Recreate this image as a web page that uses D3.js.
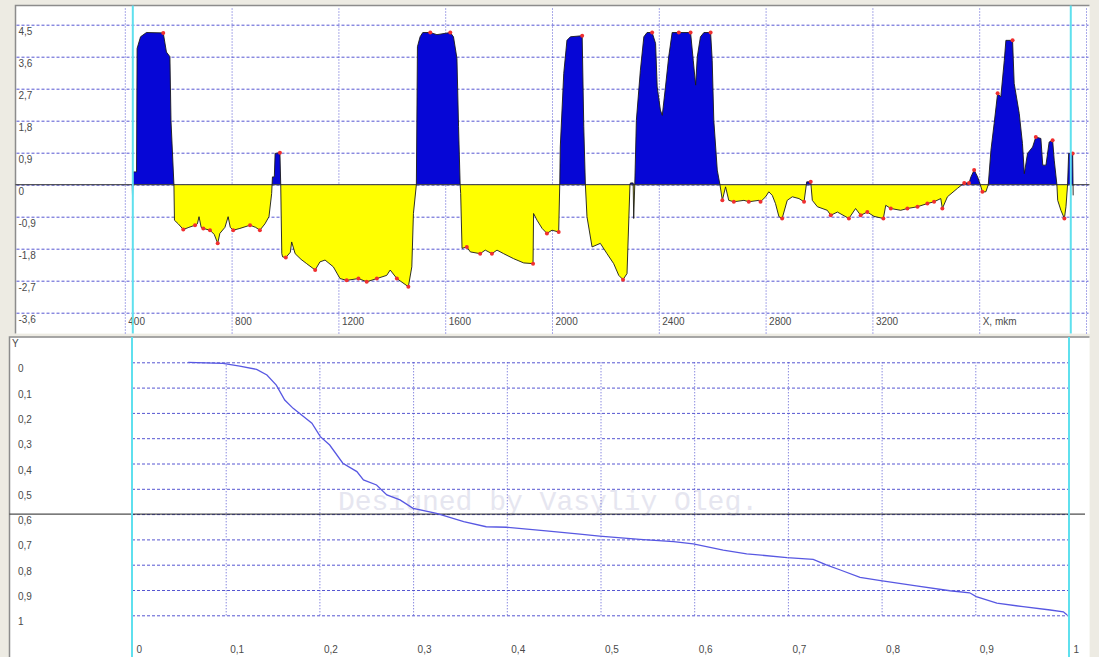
<!DOCTYPE html>
<html>
<head>
<meta charset="utf-8">
<script src="https://cdn.jsdelivr.net/npm/d3@7"></script>
<style>
  body { margin: 0; background: #edebe3; }
  svg { display: block; }
  .lbl { font-family: "Liberation Sans", Arial, sans-serif; font-size: 10px; fill: #4a4a4a; }
</style>
</head>
<body>
<svg id="chart" width="1099" height="657"></svg>
<script>
// ---- profile (upper panel): position along X (mkm) and value ----
var profX = [428, 429, 431, 444, 446, 459, 481, 544, 556, 569, 573, 584,
  586, 600, 619, 640, 663, 672, 678, 686, 694, 719, 735, 748, 756, 775, 787, 795,
  806, 831, 869, 890, 906, 925, 940, 950, 953, 960, 963, 981, 984,
  988, 991, 1003, 1020, 1025, 1038, 1060, 1081, 1113, 1131, 1150, 1181, 1206,
  1231, 1275, 1306, 1344, 1381, 1394, 1419, 1462, 1475, 1481, 1492,
  1496, 1506, 1516, 1544, 1569, 1619, 1631, 1644, 1650, 1656,
  1658, 1663, 1681, 1694, 1731, 1750, 1775, 1794, 1819, 1856, 1894, 1929,
  1931, 1944, 1963, 1981, 2000, 2025, 2029,
  2031, 2044, 2056, 2069, 2113, 2119, 2125,
  2131, 2150, 2181, 2206, 2231, 2250, 2266, 2281, 2292, 2294, 2304, 2306, 2310,
  2316, 2331, 2344, 2356, 2375, 2388, 2394, 2406, 2413, 2425, 2437, 2450, 2475,
  2519, 2529, 2538, 2544, 2556, 2569, 2594, 2600, 2606, 2619, 2629,
  2638, 2650, 2662, 2681, 2719, 2737, 2775, 2781, 2800, 2812, 2825, 2837, 2850,
  2862, 2881, 2900, 2925, 2944, 2954, 2969, 2975, 2994, 3031, 3044, 3069, 3112,
  3137, 3156, 3181, 3206, 3241, 3250, 3269, 3306, 3331, 3369, 3406, 3431, 3456,
  3462, 3481, 3519, 3544, 3562, 3569, 3581, 3594, 3604, 3612, 3625, 3634,
  3644, 3656, 3669, 3681, 3694, 3700, 3725, 3731, 3750, 3762, 3769, 3781, 3800,
  3812, 3831, 3838, 3850, 3862, 3875, 3881, 3891,
  3894, 3906, 3919, 3925, 3931, 3935, 3950, 3952];
var profY = [0, -0.34, 0.36, 0.36, 3.83, 4.16, 4.28, 4.27, 3.73, 3.6, 1.8, 0,
  -1.0, -1.1, -1.26, -1.2, -1.14, -1.1, -0.9, -1.2, -1.23, -1.28, -1.4, -1.65, -1.37, -1.2, -0.9, -1.2,
  -1.28, -1.23, -1.14, -1.2, -1.28, -1.1, -0.9, -0.25, 0.22, 0.22, 0.88, 0.9, 0,
  -1.94, -2.03, -2.05, -1.9, -1.61, -1.94, -2.1, -2.22, -2.4, -2.17, -2.12, -2.31, -2.64,
  -2.69, -2.64, -2.73, -2.64, -2.55, -2.4, -2.64, -2.87, -2.31, -0.81, 0,
  3.88, 4.16, 4.28, 4.28, 4.22, 4.28, 4.16, 3.55, 1.63, 0,
  -0.25, -1.79, -1.75, -1.89, -1.94, -1.84, -1.94, -1.84, -1.94, -2.08, -2.2, -2.22,
  -0.81, -1.0, -1.23, -1.37, -1.28, -1.33, 0,
  1.06, 3.13, 4.06, 4.16, 4.19, 1.63, 0,
  -0.9, -1.75, -1.65, -1.94, -2.22, -2.55, -2.67, -2.5, 0, 0.05, 0.05, -0.95, 0,
  1.81, 3.22, 4.16, 4.28, 4.28, 3.97, 2.75, 2.1, 1.95, 2.75, 3.59, 4.28, 4.28,
  4.28, 3.5, 2.8, 3.59, 4.16, 4.28, 4.28, 3.5, 1.81, 0.41, 0,
  -0.44, -0.06, -0.44, -0.48, -0.44, -0.48, -0.44, -0.48, -0.34, -0.2, -0.3, -0.53, -0.9,
  -0.95, -0.44, -0.34, -0.39, -0.48, 0.08, 0.08, -0.44, -0.62, -0.72, -0.86, -0.77, -0.95,
  -0.67, -0.86, -0.77, -0.89, -0.95, -0.58, -0.67, -0.72, -0.67, -0.62, -0.53, -0.48, -0.39,
  -0.67, -0.34, -0.1, 0.05, 0.05, 0.22, 0.41, 0.22, 0, -0.2, -0.2, 0,
  0.97, 1.72, 2.57, 2.47, 3.5, 4.06, 4.06, 2.85, 2.0, 1.16, 0.31, 0.88, 1.06,
  1.34, 1.3, 0.55, 0.55, 1.2, 1.25, 0.69, 0,
  -0.44, -0.72, -0.95, -0.62, 0, 0.88, 0.88, -0.3];
// positions of the red extremum markers
var dotX = [544, 619, 663, 694, 719, 748, 806, 869, 906, 981, 1003, 1113, 1231, 1275,
  1306, 1344, 1419, 1462, 1544, 1619, 1681, 1731, 1775, 1929, 1981, 2025, 2113, 2266,
  2375, 2475, 2519, 2594, 2638, 2681, 2737, 2781, 2862, 2944, 2969, 3044, 3112, 3156,
  3181, 3241, 3269, 3331, 3369, 3406, 3431, 3462, 3544, 3562, 3581, 3612, 3669, 3725,
  3812, 3875, 3919, 3950];
var upYTicks = [4.5, 3.6, 2.7, 1.8, 0.9, 0, -0.9, -1.8, -2.7, -3.6];
var upXTicks = [400, 800, 1200, 1600, 2000, 2400, 2800, 3200, 3600, 4000];
var upXLabels = ["400", "800", "1200", "1600", "2000", "2400", "2800", "3200", "X, mkm", ""];
var cursors = [430, 3943];

// ---- normalised curve (lower panel) ----
var curveX = [0.060, 0.097, 0.115, 0.133, 0.144, 0.154, 0.163, 0.172, 0.181, 0.192, 0.201,
  0.211, 0.225, 0.240, 0.247, 0.261, 0.272, 0.286, 0.300, 0.325, 0.354, 0.378, 0.400,
  0.442, 0.478, 0.499, 0.542, 0.578, 0.599, 0.631, 0.656, 0.699, 0.727, 0.741, 0.756,
  0.777, 0.799, 0.837, 0.873, 0.894, 0.901, 0.923, 0.951, 0.980, 0.994, 0.998];
var curveY = [0.0, 0.004, 0.015, 0.028, 0.050, 0.090, 0.149, 0.182, 0.208, 0.241, 0.294,
  0.327, 0.399, 0.432, 0.465, 0.485, 0.524, 0.544, 0.577, 0.597, 0.630, 0.650, 0.652,
  0.666, 0.679, 0.687, 0.700, 0.709, 0.718, 0.742, 0.757, 0.772, 0.779, 0.801, 0.821,
  0.850, 0.863, 0.884, 0.903, 0.911, 0.926, 0.952, 0.966, 0.979, 0.986, 0.999];
var botTicks = [0, 0.1, 0.2, 0.3, 0.4, 0.5, 0.6, 0.7, 0.8, 0.9, 1];
var level = 0.6;

var svg = d3.select("#chart");
var grid = "#5656d2";
function comma(d) { return String(+d.toFixed(1)).replace(".", ","); }

// sunken frame: dark top/left edge, light bottom/right edge
function frame(b) {
  svg.append("rect").attr("x", b.x0).attr("y", b.y0)
    .attr("width", b.x1 - b.x0).attr("height", b.y1 - b.y0)
    .attr("fill", "#fff").attr("stroke", "#f8f8f4");
  svg.append("path")
    .attr("d", "M" + b.x0 + "," + b.y1 + "V" + b.y0 + "H" + b.x1)
    .attr("fill", "none").attr("stroke", "#8c8c8c").attr("stroke-width", 1.5);
}

// ================= upper panel =================
var up = { x0: 15.5, y0: 5.5, x1: 1089.5, y1: 333.5 };
frame(up);

var x = d3.scaleLinear().domain([0, 4000]).range([18, 1086]);
var y = d3.scaleLinear().domain([-3.6, 4.5]).range([312.7, 24.7]);

// horizontal grid + value labels
var gy = svg.append("g").attr("transform", "translate(" + (up.x0 + 1) + ",0)")
  .call(d3.axisRight(y).tickValues(upYTicks).tickSize(up.x1 - up.x0 - 2).tickFormat(comma));
gy.select(".domain").remove();
gy.selectAll("line").attr("stroke", grid).attr("stroke-dasharray", "3,2");
gy.selectAll("text").attr("class", "lbl").attr("x", 2).attr("dy", "0.95em")
  .attr("text-anchor", "start").attr("fill", null);

// vertical grid + position labels
var gx = svg.append("g").attr("transform", "translate(0," + up.y1 + ")")
  .call(d3.axisTop(x).tickValues(upXTicks).tickSize(up.y1 - up.y0 - 1)
    .tickFormat(function(d, i) { return upXLabels[i]; }));
gx.select(".domain").remove();
gx.selectAll("line").attr("stroke", grid).attr("stroke-dasharray", "1,2");
gx.selectAll("text").attr("class", "lbl").attr("y", -12).attr("dy", "0.32em")
  .attr("x", 3).attr("text-anchor", "start").attr("fill", null);

var pts = profX.map(function(v, i) { return [v, profY[i]]; });

var defs = svg.append("defs");
defs.append("clipPath").attr("id", "pos").append("rect")
  .attr("x", up.x0).attr("y", up.y0).attr("width", up.x1 - up.x0).attr("height", y(0) - up.y0);
defs.append("clipPath").attr("id", "neg").append("rect")
  .attr("x", up.x0).attr("y", y(0)).attr("width", up.x1 - up.x0).attr("height", up.y1 - y(0));

var area = d3.area().x(function(d) { return x(d[0]); }).y0(y(0)).y1(function(d) { return y(d[1]); });
svg.append("path").datum(pts).attr("d", area).attr("fill", "#0606d6").attr("clip-path", "url(#pos)");
svg.append("path").datum(pts).attr("d", area).attr("fill", "#ffff00").attr("clip-path", "url(#neg)");

// zero line
svg.append("line").attr("x1", up.x0).attr("x2", up.x1).attr("y1", y(0)).attr("y2", y(0))
  .attr("stroke", "#333").attr("stroke-width", 1);

svg.append("path").datum(pts)
  .attr("d", d3.line().x(function(d) { return x(d[0]); }).y(function(d) { return y(d[1]); }))
  .attr("fill", "none").attr("stroke", "#1a1a1a").attr("stroke-width", 0.9);

svg.append("g").selectAll("circle")
  .data(dotX)
  .enter().append("circle")
    .attr("cx", function(d) { return x(d); })
    .attr("cy", function(d) { return y(profY[profX.indexOf(d)]); })
    .attr("r", 2)
    .attr("fill", "#f03030");

svg.append("g").selectAll("line")
  .data(cursors)
  .enter().append("line")
    .attr("x1", function(d) { return x(d); }).attr("x2", function(d) { return x(d); })
    .attr("y1", up.y0).attr("y2", up.y1)
    .attr("stroke", "#5fe0ee").attr("stroke-width", 2);

// ================= lower panel =================
var bot = { x0: 9.5, y0: 337, x1: 1089.5, y1: 660 };
frame(bot);

var bx = d3.scaleLinear().domain([0, 1]).range([132, 1069]);
var by = d3.scaleLinear().domain([0, 1]).range([362.3, 615.3]);

svg.append("text").attr("x", 548).attr("y", 510)
  .style("font-family", "'Liberation Mono', 'DejaVu Sans Mono', monospace")
  .style("font-size", "28px").attr("text-anchor", "middle")
  .attr("fill", "#e6e6f0").text("Designed by Vasyliy Oleg.");

var byAx = svg.append("g").attr("transform", "translate(" + bx(0) + ",0)")
  .call(d3.axisRight(by).tickValues(botTicks).tickSize(bx(1) - bx(0)).tickFormat(comma));
byAx.select(".domain").remove();
byAx.selectAll("line").attr("stroke", grid).attr("stroke-dasharray", "3,2");
byAx.selectAll("text").attr("class", "lbl").attr("x", 18 - bx(0)).attr("dy", "0.95em")
  .attr("text-anchor", "start").attr("fill", null);

var bxAx = svg.append("g").attr("transform", "translate(0," + by(1) + ")")
  .call(d3.axisTop(bx).tickValues(botTicks).tickSize(by(1) - by(0)).tickFormat(comma));
bxAx.select(".domain").remove();
bxAx.selectAll("line").attr("stroke", grid).attr("stroke-dasharray", "1,2");
bxAx.selectAll("text").attr("class", "lbl").attr("y", 35).attr("dy", "0.32em")
  .attr("x", 4).attr("text-anchor", "start").attr("fill", null);

svg.append("text").attr("class", "lbl").attr("x", 12).attr("y", 347).text("Y");

svg.append("line").attr("x1", bot.x0).attr("x2", 1085).attr("y1", by(level)).attr("y2", by(level))
  .attr("stroke", "#222").attr("stroke-width", 1);

svg.append("path").datum(curveX.map(function(v, i) { return [v, curveY[i]]; }))
  .attr("d", d3.line().x(function(d) { return bx(d[0]); }).y(function(d) { return by(d[1]); }))
  .attr("fill", "none").attr("stroke", "#5858e2").attr("stroke-width", 1.3);

svg.append("g").selectAll("line")
  .data([0, 1])
  .enter().append("line")
    .attr("x1", function(d) { return bx(d); }).attr("x2", function(d) { return bx(d); })
    .attr("y1", bot.y0).attr("y2", 657)
    .attr("stroke", "#5fe0ee").attr("stroke-width", 2);
</script>
</body>
</html>
